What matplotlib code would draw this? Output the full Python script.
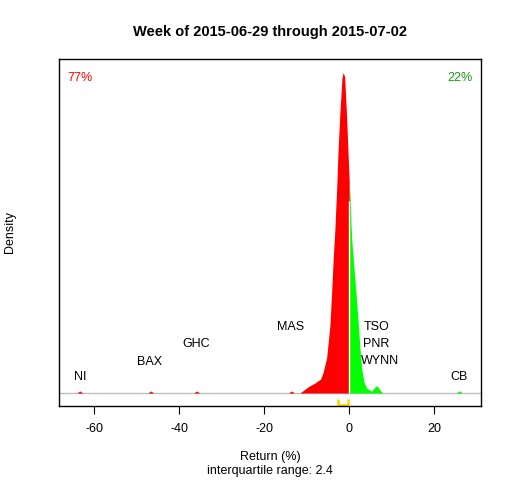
import numpy as np
import matplotlib
matplotlib.use("Agg")
import matplotlib.pyplot as plt

# ==============================
# Data
# ==============================
# density of weekly returns (%)
ret_x = [-11.6, -10.66, -9.72, -8.07, -6.73, -6.12, -5.32, -4.94, -4.54, -4.14,
         -3.76, -3.36, -3.13, -2.89, -2.66, -2.42, -2.19, -1.95, -1.72, -1.41,
         -1.08, -0.85, -0.61, -0.38, -0.14, 0.0, 0.24, 0.45, 0.7, 0.94,
         1.25, 1.58, 2.12, 2.52, 2.92, 3.46, 4.09, 4.87, 5.3, 5.9,
         6.45, 7.0, 7.6, 8.0]
dens = [0.0, 0.0023, 0.0047, 0.0078, 0.0109, 0.0164, 0.0273, 0.0398, 0.0530, 0.0787,
        0.1052, 0.1286, 0.1466, 0.1645, 0.1870, 0.2035, 0.2190, 0.2320, 0.2456, 0.2500,
        0.2464, 0.2315, 0.2144, 0.1957, 0.1754, 0.1650, 0.1500, 0.1290, 0.1150, 0.1050,
        0.0920, 0.0787, 0.0545, 0.0350, 0.0195, 0.0086, 0.0039, 0.0020, 0.0016, 0.0040,
        0.0058, 0.0035, 0.0008, 0.0]

# outliers far in the tails (tiny density bumps)
tail_names = ["NI", "BAX", "GHC", "MAS", "CB"]
tail_ret = [-63.4, -46.7, -35.9, -13.6, 25.9]
tail_dens = [0.0016, 0.0016, 0.0016, 0.0016, 0.0018]

# labelled tickers and label heights
lab_names = ["NI", "BAX", "GHC", "MAS", "TSO", "PNR", "WYNN", "CB"]
lab_x = [-63.4, -46.9, -36.0, -13.7, 6.5, 6.3, 7.2, 25.8]
lab_y = [0.0125, 0.0244, 0.0381, 0.0513, 0.0513, 0.0381, 0.0249, 0.0125]

pct_down = "77%"
pct_up = "22%"
q1, q3 = -2.6, -0.2
iqr = 2.4

# ==============================
# Build full curve
# ==============================
xs = list(ret_x)
ys = list(dens)
for r, d in zip(tail_ret, tail_dens):
    xs += [r - 0.7, r, r + 0.7]
    ys += [0.0, d, 0.0]
order = np.argsort(xs)
xs = np.array(xs)[order]
ys = np.array(ys)[order]

# ==============================
# Plot
# ==============================
plt.rcParams["font.family"] = ["Liberation Sans", "DejaVu Sans"]
plt.rcParams["axes.unicode_minus"] = False
fig = plt.figure(figsize=(5.12, 4.8), dpi=100)
ax = fig.add_axes([0.1152, 0.1542, 0.8242, 0.7229])

ax.fill_between(xs, 0, ys, where=xs <= 0, color="#FF0000", lw=0, interpolate=True)
ax.fill_between(xs, 0, ys, where=xs >= 0, color="#00FF00", lw=0, interpolate=True)
d0 = np.interp(0.24, xs, ys)
ax.vlines(0, 0, d0, color="white", lw=1)
ax.axhline(0, color="#BEBEBE", lw=1, zorder=0.5)

for name, x, y in zip(lab_names, lab_x, lab_y):
    ax.text(x, y, name, ha="center", va="center", fontsize=9)

ax.text(0.019, 0.945, pct_down, color="#FF0000", transform=ax.transAxes,
        ha="left", va="center", fontsize=9)
ax.text(0.979, 0.945, pct_up, color="#119911", transform=ax.transAxes,
        ha="right", va="center", fontsize=9)

# interquartile bracket
yb, yt = -0.0094, -0.0049
ax.plot([q1, q1, q3, q3], [yt, yb, yb, yt], color="#FFD700", lw=1.9,
        clip_on=False, solid_capstyle="butt", solid_joinstyle="miter")

ax.set_xlim(-68.3, 31.0)
ax.set_ylim(-0.01013, 0.2604)
ax.set_xticks([-60, -40, -20, 0, 20])
ax.set_yticks([])
ax.tick_params(axis="x", length=6, labelsize=9, pad=6)
for s in ax.spines.values():
    s.set_linewidth(1)

fig.text(0.527, 1 - 32 / 480, "Week of 2015-06-29 through 2015-07-02",
         ha="center", va="center", fontsize=10.5, fontweight="bold")
fig.text(0.527, 1 - 457 / 480, "Return (%)", ha="center", va="center", fontsize=9)
fig.text(0.527, 1 - 471 / 480, "interquartile range: %.1f" % iqr,
         ha="center", va="center", fontsize=9)
fig.text(10 / 512, 1 - 232 / 480, "Density", rotation=90,
         ha="center", va="center", fontsize=9)

fig.savefig("out.png", dpi=100)
